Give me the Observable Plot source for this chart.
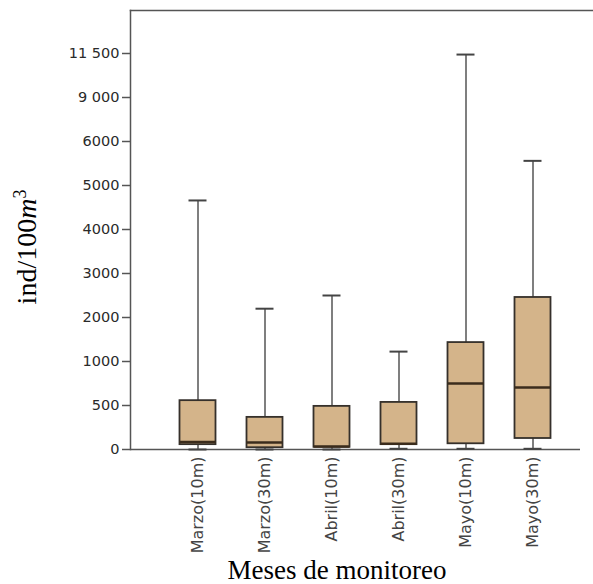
<!DOCTYPE html>
<html><head><meta charset="utf-8">
<script src="https://cdn.jsdelivr.net/npm/d3@7"></script>
<script src="https://cdn.jsdelivr.net/npm/@observablehq/plot@0.6"></script>
<style>body{margin:0;background:#fff} svg{display:block}</style>
</head><body><div id="chart"></div>
<script>
const categories = ["Marzo(10m)","Marzo(30m)","Abril(10m)","Abril(30m)","Mayo(10m)","Mayo(30m)"];
const mins    = [0, 0, 0, 8, 8, 8];
const q1s     = [55, 20, 25, 55, 65, 125];
const medians = [85, 80, 35, 65, 750, 705];
const q3s     = [555, 365, 490, 535, 1430, 2455];
const maxs    = [4660, 2200, 2500, 1225, 11440, 5560];
const yTicks = [0, 500, 1000, 2000, 3000, 4000, 5000, 6000, 9000, 11500];
const yTickLabels = ["0", "500", "1000", "2000", "3000", "4000", "5000", "6000", "9 000", "11 500"];

const data = categories.map((c, i) => ({cat: c, min: mins[i], q1: q1s[i], median: medians[i], q3: q3s[i], max: maxs[i]}));

const boxInset = 15.5, capInset = 24.5;
const axisColor = "#555";

const chart = Plot.plot({
  width: 593, height: 584,
  marginLeft: 130, marginRight: 0, marginTop: 10, marginBottom: 135,
  style: {background: "#fff", overflow: "visible"},
  x: {domain: categories, padding: 0, insetLeft: 33, insetRight: 27, label: null},
  y: {type: "linear", domain: yTicks, insetTop: 43, label: null},
  marks: [
    Plot.frame({anchor: "top", stroke: axisColor, strokeWidth: 1.5}),
    Plot.frame({anchor: "left", stroke: axisColor, strokeWidth: 1.5}),
    Plot.ruleY([0], {insetRight: 13, stroke: axisColor, strokeWidth: 1.5}),
    Plot.axisY({ticks: yTicks, tickFormat: d => yTickLabels[yTicks.indexOf(d)], tickSize: 8, tickPadding: 3,
      fontSize: 14.5, fontFamily: "DejaVu Sans", color: "#2a2a2a", stroke: axisColor, strokeWidth: 1.5, label: null}),
    Plot.axisX({tickRotate: -90, tickSize: 0, tickPadding: 7, fontSize: 16, fontFamily: "DejaVu Sans", color: "#444", label: null}),
    Plot.ruleX(data, {x: "cat", y1: "min", y2: "max", stroke: "#555", strokeWidth: 1.5}),
    Plot.tickY(data, {x: "cat", y: "max", stroke: "#444", strokeWidth: 2, insetLeft: capInset, insetRight: capInset}),
    Plot.tickY(data, {x: "cat", y: "min", stroke: "#444", strokeWidth: 2, insetLeft: capInset, insetRight: capInset}),
    Plot.barY(data, {x: "cat", y1: "q1", y2: "q3", fill: "#d4b48a", stroke: "#35302b", strokeWidth: 1.8, insetLeft: boxInset, insetRight: boxInset}),
    Plot.tickY(data, {x: "cat", y: "median", stroke: "#3b2c1c", strokeWidth: 2.5, insetLeft: boxInset, insetRight: boxInset})
  ]
});

const svg = d3.select(chart);
svg.append("text")
  .attr("x", 337).attr("y", 579)
  .attr("text-anchor", "middle")
  .attr("font-family", "Liberation Serif").attr("font-size", 27).attr("fill", "#000")
  .text("Meses de monitoreo");
const yl = svg.append("text")
  .attr("transform", "translate(36,247) rotate(-90)")
  .attr("text-anchor", "middle")
  .attr("font-family", "Liberation Serif").attr("font-size", 28).attr("fill", "#000");
yl.append("tspan").text("ind/100");
yl.append("tspan").attr("font-style", "italic").text("m");
yl.append("tspan").attr("font-size", 18).attr("dy", -10).text("3");

document.getElementById("chart").appendChild(chart);
</script>
</body></html>
